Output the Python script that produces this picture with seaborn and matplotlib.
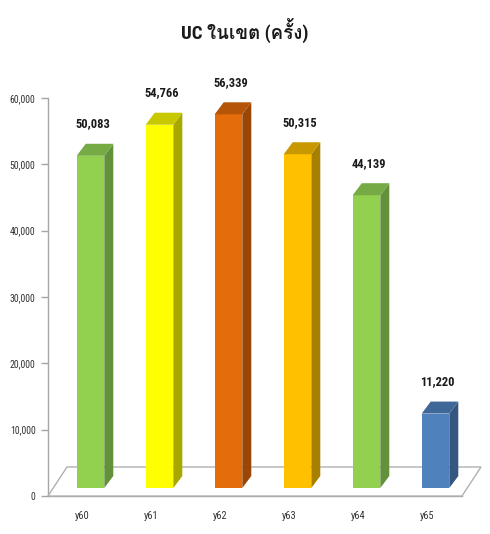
import numpy as np
import pandas as pd
import matplotlib
matplotlib.use("Agg")
import matplotlib.pyplot as plt
import seaborn as sns
from matplotlib import font_manager as fm
from matplotlib.ft2font import FT2Font
from matplotlib.patches import Polygon
from matplotlib.transforms import offset_copy, IdentityTransform

# ---- data ----
categories = ["y60", "y61", "y62", "y63", "y64", "y65"]
values = [50083, 54766, 56339, 50315, 44139, 11220]
front_colors = ["#92D050", "#FFFF00", "#E46C0A", "#FFC000", "#92D050", "#4F81BD"]
side_colors = ["#62913A", "#A8A800", "#9A4706", "#A88000", "#62913A", "#34567F"]
top_colors = ["#76AA44", "#C8C800", "#B45508", "#C89800", "#76AA44", "#3F6898"]
title = "UC ในเขต (ครั้ง)"
yticks = [0, 10000, 20000, 30000, 40000, 50000, 60000]


def find_font_with(cp):
    found = []
    for f in fm.fontManager.ttflist:
        try:
            if cp in FT2Font(f.fname).get_charmap():
                found.append(f.name)
        except Exception:
            pass
    return found


names = {f.name for f in fm.fontManager.ttflist}
narrow = None
for cand in ["Liberation Sans Narrow", "Roboto Condensed", "Open Sans Condensed", "DejaVu Sans"]:
    if cand in names:
        narrow = cand
        break
thai_fonts = find_font_with(0x0E43)
thai = thai_fonts[0] if thai_fonts else None

sns.set_style("white")
plt.rcParams["font.family"] = [narrow, "DejaVu Sans"]
plt.rcParams["font.stretch"] = "condensed"

DPI = 100
fig = plt.figure(figsize=(4.9, 5.34), dpi=DPI)
ax = fig.add_axes([48 / 490, 38 / 534, 414 / 490, 398 / 534])

df = pd.DataFrame({"cat": categories, "val": values})
sns.barplot(data=df, x="cat", y="val", hue="cat", palette=front_colors,
            width=0.4, legend=False, ax=ax, saturation=1, linewidth=0)
bars = list(ax.patches)

ax.set_xlim(-0.5, 5.5)
ax.set_ylim(0, 60000)
ax.set_xlabel("")
ax.set_ylabel("")
ax.set_yticks(yticks)
ax.set_yticklabels([f"{v:,}" for v in yticks], fontsize=7, color="#333333",
                   fontstretch="condensed")
ax.set_xticks(range(len(categories)))
ax.set_xticklabels(categories, fontsize=7.5, color="#333333", fontstretch="condensed")
ax.set_xticks(np.arange(-0.5, len(categories), 1), minor=True)
ax.tick_params(axis="x", which="major", length=0, pad=11)
ax.tick_params(axis="x", which="minor", length=5, color="#A6A6A6", width=1, direction="out")
ax.tick_params(axis="y", length=5, color="#A6A6A6", width=1, direction="out", left=True, pad=4)
for s in ["top", "right"]:
    ax.spines[s].set_visible(False)
for s in ["left", "bottom"]:
    ax.spines[s].set_color("#A6A6A6")
    ax.spines[s].set_linewidth(1)
    ax.spines[s].set_zorder(0.2)

fig.canvas.draw()

# bar offset (mid-depth) and bar depth in pixels
bx, by = 8, 8
ddx, ddy = 9, 12
bar_tr = offset_copy(ax.transData, fig=fig, x=bx, y=by, units="dots")

# floor
fdx, fdy = 19, 29
pl = ax.transData.transform((-0.5, 0))
pr = ax.transData.transform((5.5, 0))
floor = Polygon([pl, pr, (pr[0] + fdx, pr[1] + fdy), (pl[0] + fdx, pl[1] + fdy)],
                closed=True, facecolor="white", edgecolor="#B0B0B0", linewidth=1,
                transform=IdentityTransform(), zorder=0.5, clip_on=False)
ax.add_artist(floor)

for i, p in enumerate(bars):
    p.set_transform(bar_tr)
    p.set_zorder(3)
    p.set_clip_on(False)
    x0, x1 = p.get_x(), p.get_x() + p.get_width()
    h = p.get_height()
    (ax0, ay0) = bar_tr.transform((x0, 0))
    (ax1, ay1) = bar_tr.transform((x1, h))
    side = Polygon([(ax1, ay0), (ax1, ay1), (ax1 + ddx, ay1 + ddy), (ax1 + ddx, ay0 + ddy)],
                   closed=True, facecolor=side_colors[i], edgecolor="none",
                   transform=IdentityTransform(), zorder=2.5, clip_on=False)
    top = Polygon([(ax0, ay1), (ax1, ay1), (ax1 + ddx, ay1 + ddy), (ax0 + ddx, ay1 + ddy)],
                  closed=True, facecolor=top_colors[i], edgecolor="none",
                  transform=IdentityTransform(), zorder=3.5, clip_on=False)
    ax.add_artist(side)
    ax.add_artist(top)
    lx = (ax0 + ax1) / 2 + 2
    ly = ay1 + 32
    fig.text(lx / fig.bbox.width, ly / fig.bbox.height, f"{values[i]:,}",
             ha="center", va="center", fontsize=9, fontweight="bold", color="#1A1A1A",
             fontstretch="condensed")

tfam = [narrow, thai, "DejaVu Sans"] if thai else [narrow, "DejaVu Sans"]
fig.text(0.5, 1 - 30 / 534, title, ha="center", va="center", fontsize=13.5,
         fontweight="bold", family=tfam, color="#1A1A1A", fontstretch="condensed")

fig.savefig("out.png", dpi=DPI)
